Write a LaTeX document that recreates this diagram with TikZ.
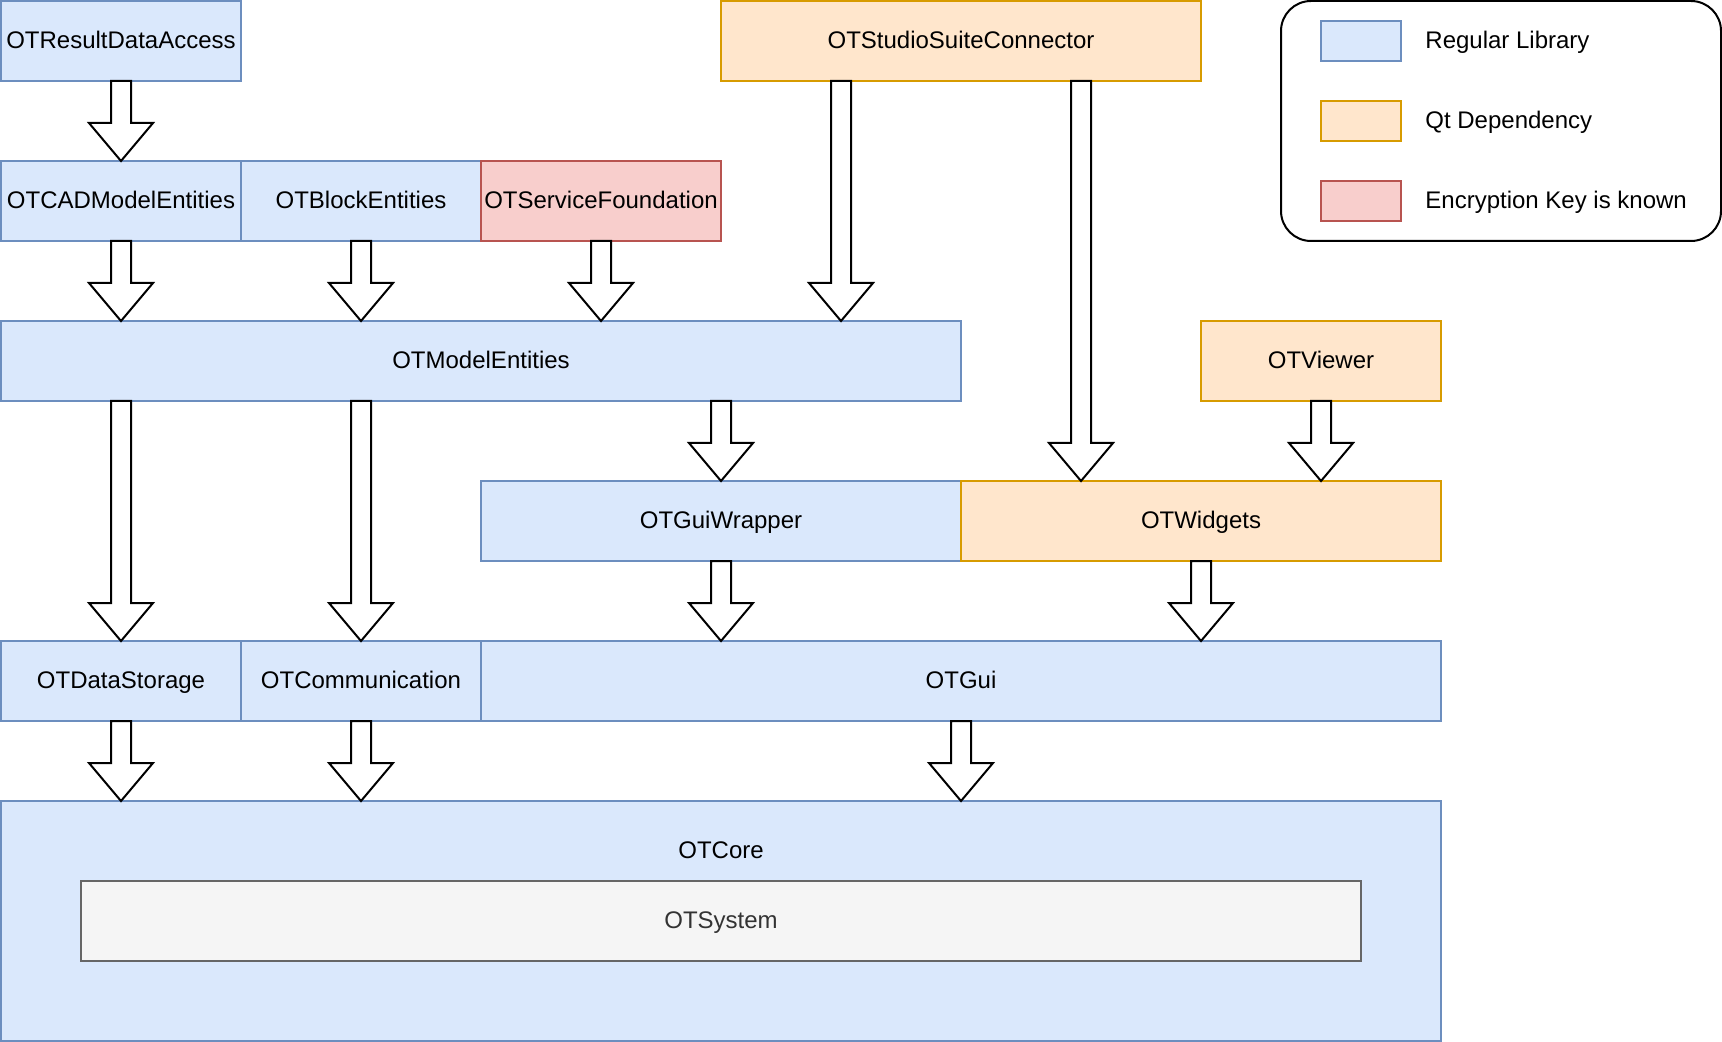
\documentclass[tikz,border=0pt]{standalone}
\usepackage{fontspec}
\setmainfont{Liberation Sans}
\usetikzlibrary{calc}
\definecolor{bfill}{HTML}{DAE8FC}
\definecolor{bline}{HTML}{6C8EBF}
\definecolor{ofill}{HTML}{FFE6CC}
\definecolor{oline}{HTML}{D79B00}
\definecolor{rfill}{HTML}{F8CECC}
\definecolor{rline}{HTML}{B85450}
\definecolor{gfill}{HTML}{F5F5F5}
\definecolor{gline}{HTML}{666666}
\definecolor{gtext}{HTML}{333333}
\tikzset{
  box/.style={draw, rectangle, inner sep=0pt, outer sep=0pt, line width=1pt,
    font=\fontsize{12pt}{14pt}\selectfont, text height=9pt, text depth=1.5pt, text=black},
  bluebox/.style={box, fill=bfill, draw=bline},
  orangebox/.style={box, fill=ofill, draw=oline},
  redbox/.style={box, fill=rfill, draw=rline},
  graybox/.style={box, fill=gfill, draw=gline, text=gtext},
  lbl/.style={font=\fontsize{12pt}{14pt}\selectfont, text height=9pt, text depth=1.5pt, inner sep=0pt},
  blockarrow/.style={draw=black, fill=white, line width=1pt, line join=miter},
}
\newcommand{\barrow}[3]{%
  \coordinate (bx) at (#1,0);
  \draw[blockarrow]
    ($(bx |- #2.south)+(-5pt,0)$) --
    ($(bx |- #3.north)+(-5pt,19pt)$) --
    ($(bx |- #3.north)+(-16pt,19pt)$) --
    (bx |- #3.north) --
    ($(bx |- #3.north)+(16pt,19pt)$) --
    ($(bx |- #3.north)+(5pt,19pt)$) --
    ($(bx |- #2.south)+(5pt,0)$) -- cycle;
}
\begin{document}
\begin{tikzpicture}[x=0.5pt,y=-0.5pt]
\useasboundingbox (0,0) rectangle (1722,1042);
% row 1
\node[bluebox, minimum width=120pt, minimum height=40pt] (rda) at (121,41) {OTResultDataAccess};
\node[orangebox, minimum width=240pt, minimum height=40pt] (ssc) at (961,41) {OTStudioSuiteConnector};
% row 2
\node[bluebox, minimum width=120pt, minimum height=40pt] (cad) at (121,201) {OTCADModelEntities};
\node[bluebox, minimum width=120pt, minimum height=40pt] (blk) at (361,201) {OTBlockEntities};
\node[redbox, minimum width=120pt, minimum height=40pt] (svc) at (601,201) {OTServiceFoundation};
% row 3
\node[bluebox, minimum width=480pt, minimum height=40pt] (me) at (481,361) {OTModelEntities};
\node[orangebox, minimum width=120pt, minimum height=40pt] (viewer) at (1321,361) {OTViewer};
% row 4
\node[bluebox, minimum width=240pt, minimum height=40pt] (gw) at (721,521) {OTGuiWrapper};
\node[orangebox, minimum width=240pt, minimum height=40pt] (wid) at (1201,521) {OTWidgets};
% row 5
\node[bluebox, minimum width=120pt, minimum height=40pt] (ds) at (121,681) {OTDataStorage};
\node[bluebox, minimum width=120pt, minimum height=40pt] (com) at (361,681) {OTCommunication};
\node[bluebox, minimum width=480pt, minimum height=40pt] (gui) at (961,681) {OTGui};
% core
\node[bluebox, minimum width=720pt, minimum height=120pt] (core) at (721,921) {};
\node[lbl] (coretxt) at (721,851) {OTCore};
\node[graybox, minimum width=640pt, minimum height=40pt] (sys) at (721,921) {OTSystem};
% legend
\node[draw=black, line width=1pt, rounded corners=15pt, minimum width=220pt, minimum height=120pt, inner sep=0pt] (legend) at (1501,121) {};
\node[bluebox, minimum width=40pt, minimum height=20pt] (lg1) at (1361,41) {};
\node[orangebox, minimum width=40pt, minimum height=20pt] (lg2) at (1361,121) {};
\node[redbox, minimum width=40pt, minimum height=20pt] (lg3) at (1361,201) {};
\node[lbl, anchor=west] (lt1) at (1425,41) {Regular Library};
\node[lbl, anchor=west] (lt2) at (1425,121) {Qt Dependency};
\node[lbl, anchor=west] (lt3) at (1425,201) {Encryption Key is known};
% arrows
\barrow{121}{rda}{cad}
\barrow{121}{cad}{me}
\barrow{361}{blk}{me}
\barrow{601}{svc}{me}
\barrow{841}{ssc}{me}
\barrow{1081}{ssc}{wid}
\barrow{121}{me}{ds}
\barrow{361}{me}{com}
\barrow{721}{me}{gw}
\barrow{1321}{viewer}{wid}
\barrow{721}{gw}{gui}
\barrow{1201}{wid}{gui}
\barrow{121}{ds}{core}
\barrow{361}{com}{core}
\barrow{961}{gui}{core}
\end{tikzpicture}
\end{document}
